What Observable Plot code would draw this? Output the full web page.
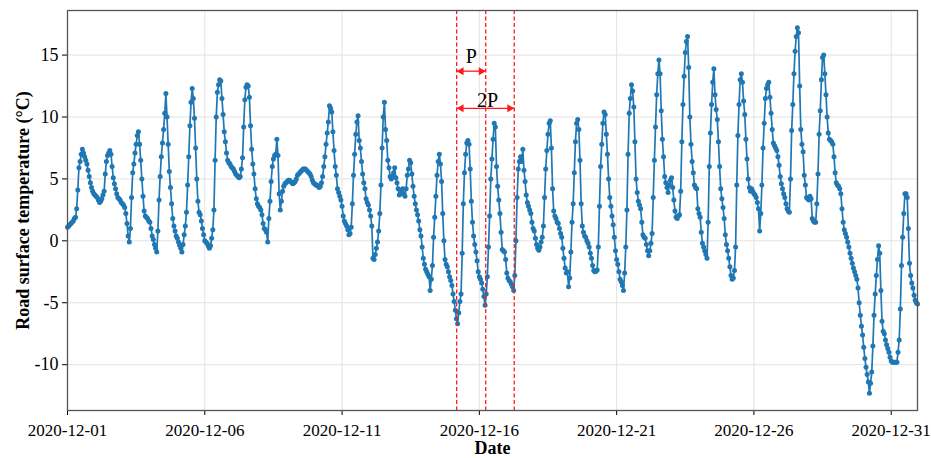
<!DOCTYPE html>
<html>
<head>
<meta charset="utf-8">
<script src="https://cdn.jsdelivr.net/npm/d3@7"></script>
<script src="https://cdn.jsdelivr.net/npm/@observablehq/plot@0.6"></script>
<style>
  html, body { margin: 0; padding: 0; background: #fff; }
  #chart svg { display: block; }
</style>
</head>
<body>
<div id="chart"></div>
<script>
// Hourly road surface temperature (°C), one row per day, 00:00 to 23:00.
const week1 = [ // Dec 1 – Dec 7
  1.1, 1.2, 1.3, 1.4, 1.5, 1.6, 1.8, 1.9, 2.6, 4.1, 5.9, 6.4, 7.0, 7.4, 7.1, 6.8, 6.5, 6.2, 5.7, 5.2, 4.7, 4.3, 4.0, 3.8,
  3.7, 3.6, 3.5, 3.3, 3.1, 3.2, 3.4, 3.7, 4.0, 5.4, 6.4, 6.9, 7.1, 7.3, 7.0, 6.0, 5.1, 4.6, 4.2, 3.8, 3.5, 3.4, 3.3, 3.1,
  3.0, 2.9, 2.7, 2.2, 1.4, 0.4, -0.1, 1.0, 3.5, 5.5, 6.2, 7.1, 7.8, 8.5, 8.8, 7.8, 6.5, 5.0, 3.6, 2.4, 2.0, 1.9, 1.8, 1.6,
  1.5, 1.0, 0.4, 0.1, -0.3, -0.6, -0.9, 0.8, 3.3, 5.2, 6.8, 7.9, 9.0, 10.3, 11.9, 10.0, 7.8, 5.6, 4.3, 3.0, 1.8, 1.2, 0.8, 0.4,
  0.2, -0.1, -0.35, -0.6, -0.9, -0.3, 0.5, 1.2, 2.3, 4.5, 6.8, 9.3, 11.2, 12.3, 11.5, 9.9, 7.5, 5.0, 3.2, 2.3, 2.1, 1.6, 1.0, 0.5,
  0.0, -0.1, -0.2, -0.4, -0.6, -0.4, 0.2, 0.9, 2.5, 6.5, 10.0, 12.0, 12.6, 13.0, 12.9, 11.5, 10.2, 8.8, 8.0, 7.1, 6.5, 6.3, 6.2, 6.0,
  5.9, 5.8, 5.6, 5.4, 5.3, 5.2, 5.1, 5.2, 5.8, 6.7, 9.2, 11.4, 12.4, 12.6, 12.5, 11.6, 9.3, 7.4, 6.2, 5.4, 4.2, 3.4, 3.0, 2.8
];
const week2 = [ // Dec 8 – Dec 14
  2.7, 2.5, 2.1, 1.4, 1.0, 0.9, 0.7, -0.1, 1.8, 3.2, 4.8, 6.0, 6.6, 6.9, 7.0, 8.2, 6.9, 3.8, 2.5, 3.2, 4.0, 4.4, 4.6, 4.7,
  4.8, 4.9, 4.9, 4.8, 4.7, 4.6, 4.7, 4.8, 5.0, 5.3, 5.4, 5.5, 5.6, 5.7, 5.8, 5.8, 5.8, 5.7, 5.6, 5.5, 5.4, 5.2, 4.9, 4.7,
  4.6, 4.5, 4.5, 4.4, 4.3, 4.4, 4.7, 5.2, 6.0, 6.8, 7.8, 8.7, 9.6, 10.9, 10.7, 10.4, 8.8, 7.3, 6.0, 5.3, 4.2, 3.9, 3.6, 3.3,
  2.8, 2.0, 1.6, 1.4, 1.2, 0.9, 0.5, 0.6, 1.1, 3.0, 5.3, 7.0, 8.6, 9.6, 10.1, 8.1, 7.5, 6.4, 5.4, 4.7, 4.2, 3.4, 3.1, 2.9,
  2.5, 2.0, 1.2, -1.4, -1.5, -1.1, -0.6, -0.1, 0.8, 2.2, 4.5, 7.5, 10.0, 11.2, 9.0, 8.1, 6.5, 5.9, 5.2, 5.0, 5.2, 5.5, 5.9, 5.1,
  4.7, 4.2, 3.7, 3.8, 4.1, 4.2, 3.8, 3.6, 4.2, 5.3, 5.8, 6.5, 6.3, 5.4, 4.4, 3.6, 3.0, 2.5, 2.1, 1.6, 0.9, 0.4, -0.5, -1.4,
  -1.9, -2.3, -2.5, -2.7, -2.9, -4.0, -3.1, -2.0, 0.3, 1.9, 3.6, 5.3, 6.4, 7.0, 6.2, 4.8, 2.2, 0.0, -1.5, -1.9, -2.1, -2.5, -2.9, -3.2
];
const week3 = [ // Dec 15 – Dec 21
  -3.6, -4.3, -4.9, -5.6, -6.3, -6.7, -5.8, -4.9, -4.3, -1.0, 3.0, 5.5, 7.0, 7.9, 8.1, 7.8, 5.8, 3.2, 1.5, 0.4, -0.3, -0.9, -1.6, -2.5,
  -2.9, -3.1, -3.4, -3.9, -4.5, -5.2, -4.3, -2.9, -0.5, 2.0, 5.0, 6.6, 8.2, 9.5, 9.2, 6.0, 4.4, 3.3, 2.2, 0.7, -0.7, -0.8, -0.9, -1.5,
  -2.6, -3.0, -3.2, -3.3, -3.5, -3.7, -4.0, -2.8, 0.0, 3.5, 5.8, 6.4, 6.8, 6.4, 7.4, 5.7, 4.8, 3.7, 3.1, 2.8, 2.5, 2.2, 1.5, 1.0,
  0.8, 0.2, -0.3, -0.6, -0.75, -0.5, -0.1, 0.3, 1.2, 3.5, 5.8, 7.3, 8.6, 9.5, 9.7, 7.5, 4.2, 2.4, 2.0, 1.8, 1.5, 1.4, 1.0, 0.6,
  0.3, -0.6, -1.4, -2.2, -2.6, -2.5, -3.7, -3.0, -0.9, 1.5, 3.0, 5.5, 8.0, 9.5, 9.8, 9.0, 6.5, 3.0, 1.2, 0.7, 0.4, 0.3, 0.0, -0.2,
  -0.5, -1.0, -1.4, -2.0, -2.4, -2.5, -2.45, -2.35, -0.5, 2.8, 6.0, 7.8, 9.5, 10.4, 10.2, 8.6, 7.0, 5.0, 3.5, 2.8, 2.0, 1.3, 0.3, -0.8,
  -1.5, -1.9, -2.5, -3.1, -3.3, -3.6, -4.0, -2.6, -0.5, 2.5, 7.0, 10.3, 11.5, 12.6, 12.1, 10.8, 8.0, 5.0, 3.9, 3.2, 2.9, 2.6, 1.5, 0.5
];
const week4 = [ // Dec 22 – Dec 28
  0.3, 0.2, -0.3, -0.8, -1.2, -0.8, -0.2, 0.6, 3.5, 6.5, 9.2, 11.8, 13.5, 14.6, 13.5, 10.5, 8.2, 6.8, 5.2, 4.7, 4.3, 3.9, 4.5, 4.9,
  5.1, 4.3, 3.3, 2.4, 1.9, 1.8, 2.0, 2.1, 4.0, 8.0, 11.0, 13.3, 15.2, 16.1, 16.5, 14.0, 10.0, 7.8, 6.4, 5.5, 4.5, 4.3, 4.2, 2.6,
  2.2, 1.9, 0.7, -0.2, -0.5, -0.8, -1.1, -1.4, 1.5, 6.0, 8.7, 11.0, 12.8, 13.9, 11.8, 10.6, 9.8, 8.0, 6.0, 4.2, 3.4, 2.7, 1.8, 0.5,
  -0.3, -0.8, -1.4, -2.1, -2.8, -3.1, -3.0, -2.4, -0.5, 4.5, 8.5, 11.0, 13.0, 13.5, 12.8, 11.3, 10.2, 8.2, 6.6, 5.0, 4.3, 4.0, 4.2, 4.0,
  3.8, 3.7, 3.5, 3.1, 2.6, 0.8, 2.2, 4.5, 7.5, 9.5, 11.5, 12.3, 12.6, 12.8, 11.6, 10.3, 9.0, 7.9, 7.7, 7.5, 7.3, 6.8, 6.1, 5.2,
  4.6, 4.2, 3.8, 3.5, 3.0, 2.6, 2.4, 2.3, 5.0, 8.9, 11.0, 13.5, 15.3, 16.5, 17.2, 16.8, 12.5, 9.0, 7.8, 7.2, 5.3, 4.5, 3.5, 3.4,
  3.3, 3.6, 3.4, 1.8, 1.6, 1.5, 1.5, 3.0, 5.4, 8.6, 10.5, 13.0, 14.8, 15.0, 13.5, 11.8, 10.0, 8.7, 8.2, 8.1, 8.0, 7.8, 6.8, 5.5
];
const week5 = [ // Dec 29 – Dec 31
  4.7, 4.5, 4.4, 4.2, 3.8, 2.6, 1.5, 0.9, 0.6, 0.3, -0.1, -0.5, -1.0, -1.4, -1.8, -2.2, -2.5, -2.8, -3.1, -3.8, -5.0, -6.0, -6.9, -7.6,
  -8.6, -9.5, -10.2, -10.8, -11.4, -12.3, -11.5, -10.6, -8.5, -6.0, -4.3, -2.8, -1.5, -0.4, -1.0, -4.0, -6.5, -7.3, -7.5, -8.0, -8.4, -8.7, -9.0, -9.4,
  -9.7, -9.8, -9.8, -9.8, -9.8, -9.8, -9.0, -8.0, -5.5, -2.0, 0.3, 2.2, 3.8, 3.8, 3.5, 1.0, -1.8, -2.8, -3.4, -3.8, -4.4, -4.8, -5.0, -5.1
];

const startDate = "2020-12-01T00:00:00Z";
const xTickLabels = ["2020-12-01", "2020-12-06", "2020-12-11", "2020-12-16", "2020-12-21", "2020-12-26", "2020-12-31"];
const yTickValues = [-10, -5, 0, 5, 10, 15];

// Dashed reference lines (one period apart) and the spans annotated between them
const periodTimes = ["2020-12-15T04:10:00Z", "2020-12-16T05:35:00Z", "2020-12-17T06:30:00Z"];
const spanLabels = ["P", "2P"];
const spanEnds = [1, 2];         // index into periodTimes where each span ends
const spanLevels = [13.7, 10.7]; // temperature level of each span arrow

const serif = "'Liberation Serif', 'Times New Roman', Times, serif";
const HOUR = 3600 * 1000;
const t0 = new Date(startDate).getTime();
const hourly = [...week1, ...week2, ...week3, ...week4, ...week5]
  .map((temp, i) => ({date: new Date(t0 + i * HOUR), temp}));

const xTicks = xTickLabels.map(s => new Date(s + "T00:00:00Z"));
const marks = periodTimes.map(s => new Date(s));
const spans = spanLabels.map((label, i) => ({
  label,
  from: marks[0],
  to: marks[spanEnds[i]],
  mid: new Date((marks[0].getTime() + marks[spanEnds[i]].getTime()) / 2),
  y: spanLevels[i]
}));

const blue = "#1f77b4";
const red = "#ff1a1a";

const chart = Plot.plot({
  width: 931,
  height: 458,
  marginLeft: 67,
  marginRight: 14,
  marginTop: 10,
  marginBottom: 48,
  style: {fontFamily: serif, fontSize: "18px", color: "#000", background: "#fff"},
  x: {type: "utc", domain: [hourly[0].date, hourly[hourly.length - 1].date]},
  y: {domain: [-13.7, 18.6]},
  marks: [
    Plot.gridX(xTicks, {stroke: "#e2e2e2", strokeOpacity: 1, strokeWidth: 1}),
    Plot.gridY(yTickValues, {stroke: "#e2e2e2", strokeOpacity: 1, strokeWidth: 1}),
    Plot.line(hourly, {x: "date", y: "temp", stroke: blue, strokeWidth: 1.7}),
    Plot.dot(hourly, {x: "date", y: "temp", r: 2.5, fill: blue, stroke: "none"}),
    Plot.ruleX(marks, {stroke: red, strokeWidth: 1.3, strokeDasharray: "4,2.5"}),
    Plot.link(spans, {x1: "from", x2: "to", y1: "y", y2: "y", stroke: red, strokeWidth: 1.3}),
    Plot.dot(spans, {x: "from", y: "y", symbol: "triangle", rotate: -90, r: 3, fill: red, stroke: "none", dx: 4.6}),
    Plot.dot(spans, {x: "to", y: "y", symbol: "triangle", rotate: 90, r: 3, fill: red, stroke: "none", dx: -4.6}),
    Plot.text(spans.filter(d => d.label === "P"), {x: "mid", y: "y", text: "label", dy: -15, fontSize: 20, fill: "#000"}),
    Plot.text(spans.filter(d => d.label === "2P"), {x: "mid", y: "y", text: "label", dy: -8, dx: 2, fontSize: 20, fill: "#000"}),
    Plot.axisX(xTicks, {tickFormat: d3.utcFormat("%Y-%m-%d"), tickSize: 5, tickPadding: 8, label: null, fontSize: 17}),
    Plot.axisY(yTickValues, {tickSize: 5, tickPadding: 4, label: null, fontSize: 18, tickFormat: d => String(d)}),
    Plot.frame({stroke: "#555", strokeWidth: 1.3}),
    Plot.text(["Road surface temperature (°C)"], {text: d => d, frameAnchor: "left", dx: -44, rotate: -90, textAnchor: "middle", fontWeight: "bold", fontSize: 18}),
    Plot.text(["Date"], {text: d => d, frameAnchor: "bottom", lineAnchor: "middle", dy: 38, fontWeight: "bold", fontSize: 18})
  ]
});

document.getElementById("chart").appendChild(chart);
</script>
</body>
</html>
